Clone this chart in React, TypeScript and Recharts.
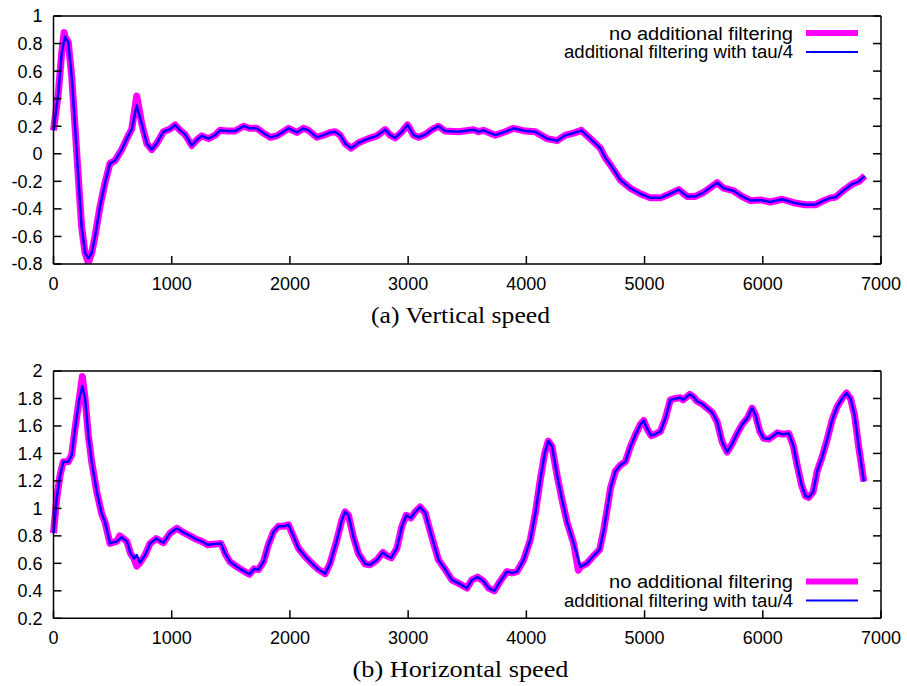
import { LineChart, Line, XAxis, YAxis } from 'recharts';

// (a) vertical speed
const vertX = [0, 41, 69, 97, 125, 154, 182, 210, 238, 267, 295, 323, 351, 394, 436, 478, 520, 577, 620, 662, 704, 746, 789, 831, 873, 930, 986, 1028, 1071, 1113, 1170, 1212, 1254, 1311, 1367, 1409, 1466, 1536, 1607, 1663, 1720, 1776, 1833, 1889, 1945, 1988, 2058, 2115, 2157, 2228, 2284, 2340, 2383, 2425, 2467, 2518, 2580, 2665, 2736, 2806, 2848, 2891, 2947, 2995, 3046, 3088, 3145, 3201, 3257, 3314, 3427, 3553, 3596, 3638, 3737, 3822, 3892, 3991, 4076, 4175, 4259, 4330, 4400, 4465, 4541, 4626, 4668, 4711, 4795, 4880, 4964, 5049, 5134, 5218, 5289, 5360, 5430, 5500, 5557, 5614, 5670, 5755, 5825, 5896, 5980, 6065, 6164, 6262, 6361, 6446, 6516, 6573, 6615, 6685, 6757, 6813, 6863];
const vertY = [0.17, 0.44, 0.73, 0.85, 0.81, 0.56, 0.2, -0.17, -0.53, -0.72, -0.76, -0.72, -0.6, -0.38, -0.21, -0.07, -0.05, 0.03, 0.11, 0.18, 0.35, 0.22, 0.075, 0.03, 0.075, 0.16, 0.18, 0.21, 0.17, 0.14, 0.06, 0.1, 0.13, 0.11, 0.135, 0.17, 0.165, 0.165, 0.2, 0.185, 0.185, 0.15, 0.12, 0.13, 0.16, 0.185, 0.155, 0.185, 0.17, 0.12, 0.135, 0.155, 0.16, 0.135, 0.075, 0.04, 0.08, 0.11, 0.13, 0.175, 0.135, 0.115, 0.16, 0.21, 0.135, 0.12, 0.14, 0.175, 0.2, 0.165, 0.16, 0.175, 0.16, 0.17, 0.135, 0.16, 0.185, 0.165, 0.16, 0.11, 0.095, 0.135, 0.15, 0.17, 0.11, 0.04, -0.03, -0.08, -0.19, -0.25, -0.29, -0.32, -0.32, -0.29, -0.26, -0.31, -0.31, -0.28, -0.245, -0.21, -0.25, -0.27, -0.31, -0.34, -0.335, -0.35, -0.33, -0.355, -0.37, -0.37, -0.34, -0.32, -0.315, -0.265, -0.22, -0.2, -0.16];
// places where the unfiltered trace sticks out of the filtered one
const vertSpikeX = [90, 295, 704];
const vertSpikeY = [0.88, -0.79, 0.42];

// (b) horizontal speed
const horizX = [0, 27, 55, 83, 125, 154, 182, 218, 244, 267, 295, 323, 366, 408, 436, 478, 535, 577, 620, 653, 681, 704, 732, 774, 817, 868, 930, 986, 1043, 1099, 1155, 1206, 1254, 1302, 1367, 1415, 1452, 1494, 1551, 1607, 1657, 1697, 1734, 1776, 1818, 1861, 1903, 1945, 1988, 2030, 2072, 2129, 2185, 2241, 2298, 2340, 2397, 2439, 2467, 2495, 2538, 2580, 2637, 2679, 2736, 2786, 2820, 2857, 2905, 2947, 2984, 3023, 3060, 3102, 3145, 3201, 3257, 3314, 3370, 3435, 3497, 3540, 3587, 3638, 3680, 3729, 3779, 3836, 3878, 3921, 3977, 4033, 4076, 4118, 4155, 4185, 4217, 4260, 4300, 4344, 4400, 4457, 4513, 4569, 4620, 4654, 4696, 4711, 4753, 4795, 4838, 4880, 4922, 4964, 4993, 5021, 5055, 5091, 5134, 5176, 5218, 5261, 5303, 5326, 5354, 5382, 5416, 5444, 5487, 5529, 5571, 5614, 5656, 5698, 5741, 5783, 5825, 5868, 5910, 5938, 5975, 6008, 6051, 6093, 6121, 6164, 6220, 6257, 6291, 6328, 6361, 6389, 6426, 6460, 6502, 6544, 6587, 6629, 6672, 6708, 6742, 6776, 6813, 6855];
const horizY = [0.82, 1.07, 1.24, 1.34, 1.34, 1.39, 1.58, 1.8, 1.89, 1.8, 1.53, 1.34, 1.12, 0.96, 0.9, 0.745, 0.76, 0.79, 0.76, 0.67, 0.635, 0.66, 0.605, 0.66, 0.745, 0.78, 0.75, 0.82, 0.855, 0.825, 0.8, 0.775, 0.76, 0.735, 0.74, 0.745, 0.67, 0.61, 0.575, 0.545, 0.52, 0.56, 0.555, 0.61, 0.735, 0.83, 0.87, 0.87, 0.88, 0.795, 0.71, 0.65, 0.6, 0.555, 0.525, 0.6, 0.77, 0.915, 0.975, 0.95, 0.79, 0.67, 0.595, 0.59, 0.625, 0.68, 0.655, 0.64, 0.71, 0.87, 0.95, 0.93, 0.975, 1.01, 0.965, 0.79, 0.625, 0.555, 0.48, 0.45, 0.42, 0.48, 0.5, 0.47, 0.42, 0.4, 0.47, 0.54, 0.53, 0.54, 0.625, 0.77, 0.965, 1.21, 1.4, 1.49, 1.45, 1.24, 1.07, 0.9, 0.745, 0.575, 0.6, 0.655, 0.7, 0.84, 1.06, 1.145, 1.27, 1.315, 1.34, 1.45, 1.535, 1.61, 1.64, 1.58, 1.53, 1.54, 1.56, 1.655, 1.79, 1.8, 1.805, 1.79, 1.81, 1.83, 1.81, 1.78, 1.76, 1.73, 1.7, 1.63, 1.485, 1.41, 1.47, 1.545, 1.61, 1.655, 1.73, 1.68, 1.56, 1.51, 1.505, 1.53, 1.55, 1.54, 1.545, 1.46, 1.315, 1.17, 1.09, 1.08, 1.12, 1.27, 1.375, 1.5, 1.645, 1.74, 1.8, 1.84, 1.8, 1.68, 1.44, 1.195];
const horizSpikeX = [244, 560, 704, 1440, 4440];
const horizSpikeY = [1.96, 0.8, 0.58, 0.7, 0.55];

const xTicks = [0, 1000, 2000, 3000, 4000, 5000, 6000, 7000];
const vertTicks = [-0.8, -0.6, -0.4, -0.2, 0, 0.2, 0.4, 0.6, 0.8, 1];
const horizTicks = [0.2, 0.4, 0.6, 0.8, 1, 1.2, 1.4, 1.6, 1.8, 2];

const legendNames = ['no additional filtering', 'additional filtering with tau/4'];

const toPoints = (xs: number[], ys: number[]) => xs.map((x, i) => ({ x, y: ys[i] }));

const withSpikes = (xs: number[], ys: number[], sx: number[], sy: number[]) => {
  const m = new Map<number, number>();
  xs.forEach((x, i) => m.set(x, ys[i]));
  sx.forEach((x, i) => m.set(x, sy[i]));
  return [...m.entries()].sort((a, b) => a[0] - b[0]).map(([x, y]) => ({ x, y }));
};

const SANS = '"Liberation Sans", Arial, Helvetica, sans-serif';
const SERIF = '"Liberation Serif", "Times New Roman", serif';
const tickStyle = { fill: '#000', fontSize: 18, fontFamily: SANS };
const blank = () => '';

const Panel = ({ top, marginTop, xAxisHeight, blue, magenta, yTicks }: any) => (
  <div style={{ position: 'absolute', left: 0, top }}>
    <LineChart width={907} height={300} margin={{ top: marginTop, right: 25, bottom: 0, left: 0 }}>
      <XAxis xAxisId="b" dataKey="x" type="number" domain={[0, 7000]} ticks={xTicks} interval={0}
        height={xAxisHeight} tickSize={-8} tickMargin={21} stroke="#000" strokeWidth={1.5} tick={tickStyle} />
      <XAxis xAxisId="t" orientation="top" dataKey="x" type="number" domain={[0, 7000]} ticks={xTicks} interval={0}
        height={1} tickSize={-8} stroke="#000" strokeWidth={1.5} tickFormatter={blank} />
      <YAxis yAxisId="l" type="number" domain={[yTicks[0], yTicks[yTicks.length - 1]]} ticks={yTicks} interval={0}
        width={53.5} tickSize={-8} tickMargin={19} stroke="#000" strokeWidth={1.5} tick={tickStyle}
        tickFormatter={(v: number) => String(v)} allowDataOverflow />
      <YAxis yAxisId="r" orientation="right" type="number" domain={[yTicks[0], yTicks[yTicks.length - 1]]} ticks={yTicks} interval={0}
        width={1} tickSize={-8} stroke="#000" strokeWidth={1.5} tickFormatter={blank} allowDataOverflow />
      <Line xAxisId="b" yAxisId="l" data={magenta} dataKey="y" type="linear" stroke="#ff00ff" strokeWidth={7}
        strokeLinejoin="round" dot={false} activeDot={false} isAnimationActive={false} />
      <Line xAxisId="b" yAxisId="l" data={blue} dataKey="y" type="linear" stroke="#0000ff" strokeWidth={2.5}
        strokeLinejoin="round" dot={false} activeDot={false} isAnimationActive={false} />
    </LineChart>
  </div>
);

const LegendBox = ({ y }: { y: number }) => (
  <g fontFamily={SANS} fontSize={18} fill="#000">
    <text x={793} y={y} textAnchor="end" textLength={184} lengthAdjust="spacingAndGlyphs">{legendNames[0]}</text>
    <line x1={806} x2={858} y1={y - 6.5} y2={y - 6.5} stroke="#ff00ff" strokeWidth={6} />
    <text x={793} y={y + 18.6} textAnchor="end" textLength={229} lengthAdjust="spacingAndGlyphs">{legendNames[1]}</text>
    <line x1={806} x2={858} y1={y + 12.5} y2={y + 12.5} stroke="#0000ff" strokeWidth={2} />
  </g>
);

export default function App() {
  const vertBlue = toPoints(vertX, vertY);
  const vertMag = withSpikes(vertX, vertY, vertSpikeX, vertSpikeY);
  const horizBlue = toPoints(horizX, horizY);
  const horizMag = withSpikes(horizX, horizY, horizSpikeX, horizSpikeY);

  return (
    <div style={{ position: 'absolute', left: 0, top: 0, width: 907, height: 686, background: '#fff', overflow: 'hidden' }}>
      <Panel top={0} marginTop={15} xAxisHeight={36} blue={vertBlue} magenta={vertMag} yTicks={vertTicks} />
      <Panel top={350} marginTop={20} xAxisHeight={31.7} blue={horizBlue} magenta={horizMag} yTicks={horizTicks} />
      <svg width={907} height={686} style={{ position: 'absolute', left: 0, top: 0, pointerEvents: 'none' }}>
        <LegendBox y={39.5} />
        <LegendBox y={588} />
        <text x={460.5} y={323} textAnchor="middle" fontFamily={SERIF} fontSize={24} fill="#000"
          textLength={179} lengthAdjust="spacingAndGlyphs">(a) Vertical speed</text>
        <text x={460.5} y={677} textAnchor="middle" fontFamily={SERIF} fontSize={24} fill="#000"
          textLength={216} lengthAdjust="spacingAndGlyphs">(b) Horizontal speed</text>
      </svg>
    </div>
  );
}
